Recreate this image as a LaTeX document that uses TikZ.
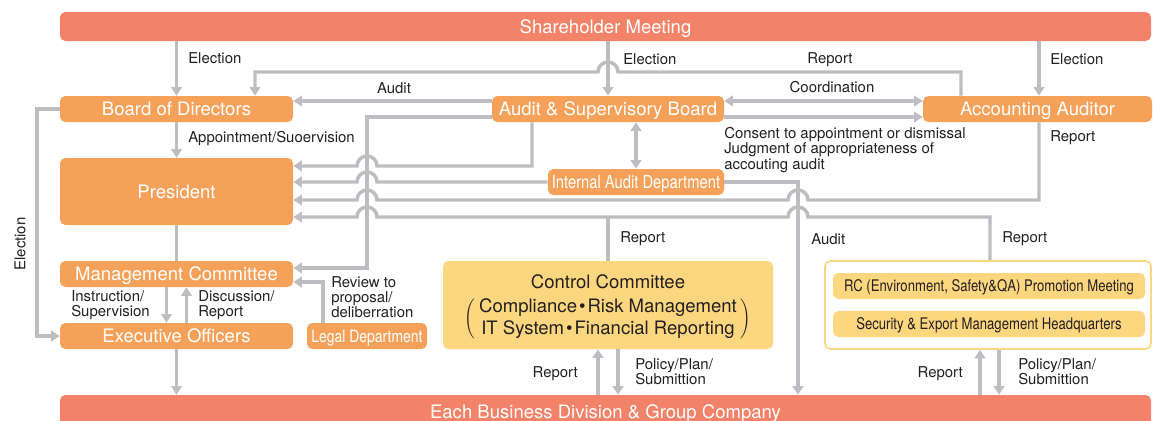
\documentclass[tikz,border=0pt]{standalone}
\usepackage{fontspec}
\setmainfont{TeX Gyre Heros}
\newfontfamily\condfont[FakeStretch=0.82]{TeX Gyre Heros}
\usetikzlibrary{arrows.meta}
\definecolor{barsalmon}{RGB}{243,131,104}
\definecolor{boxorange}{RGB}{246,161,90}
\definecolor{ctrlyellow}{RGB}{253,214,128}
\definecolor{linegray}{RGB}{189,190,193}
\definecolor{labelgray}{RGB}{35,31,32}
\newcommand\mdot{\kern1.5pt\textbullet\kern1.5pt}
\tikzset{
	basebox/.style = {rectangle, rounded corners=4pt, inner sep=0pt, align=center},
	onerow/.style = {text height=#1, text depth=0pt},% caps centred in the box
	onerow/.default = 10pt,
	barbox/.style = {basebox, onerow, fill=barsalmon, text=white, font=\fontsize{13.9}{16}\selectfont,
		minimum width=818.25pt, minimum height=21.75pt},% top and bottom bars
	obox/.style = {basebox, onerow, fill=boxorange, text=white, font=\fontsize{13.9}{16}\selectfont,
		minimum width=174.75pt, minimum height=19.5pt},% orange box
	cobox/.style = {obox, onerow=9.7pt, font=\condfont\fontsize{13.5}{16}\selectfont},% orange box, narrow text
	ctrlbox/.style = {basebox, fill=ctrlyellow, text=labelgray, font=\fontsize{13.9}{16.5}\selectfont,
		minimum width=247.5pt, minimum height=66pt},
	rcframe/.style = {basebox, draw=ctrlyellow, fill=white, line width=1.2pt,
		minimum width=244.5pt, minimum height=66pt},
	rcitem/.style = {basebox, onerow=8.6pt, fill=ctrlyellow, text=labelgray, font=\condfont\fontsize{12}{14}\selectfont,
		minimum width=234pt, minimum height=19.5pt},
	link/.style = {draw=linegray, line width=2.6pt},
	lbl/.style = {text=labelgray, font=\fontsize{11.2}{11.3}\selectfont, inner sep=0pt, align=left}
}

\begin{document}
\begin{tikzpicture}[x=0.75pt, y=-0.75pt, >={Triangle[width=8pt,length=6.5pt]}]
\useasboundingbox (0,0) rectangle (1153,421);
% boxes
\node[barbox] (share) at (605.5,26.5) {Shareholder Meeting};
\node[barbox, minimum height=24.75pt] (bottom) at (605.5,411.5) {Each Business Division \& Group Company};
\node[obox] (board) at (176.5,109) {Board of Directors};
\node[obox, minimum height=50.25pt] (pres) at (176.5,191.5) {President};
\node[obox] (mgmt) at (176.5,274) {Management Committee};
\node[obox] (exec) at (176.5,336) {Executive Officers};
\node[cobox, minimum width=90pt, onerow=9.2pt, font=\condfont\fontsize{12.75}{15}\selectfont] (legal) at (367,336) {Legal Department};
\node[obox, minimum width=174pt] (asb) at (608,109) {Audit \& Supervisory Board};
\node[cobox, minimum width=132pt] (iad) at (636,182) {Internal Audit Department};
\node[obox, minimum width=171.75pt] (aa) at (1037.5,109) {Accounting Auditor};
\node[ctrlbox] (ctrl) at (608,305) {\rule{0pt}{15pt}Control Committee\\[5.25pt]
	$\left(\kern3pt\begin{tabular}{@{}c@{}}Compliance\mdot Risk Management\\IT System\mdot Financial Reporting\end{tabular}\kern3pt\right)$};
\node[rcframe] (rcbox) at (988,305) {};
\node[rcitem] (rc) at (989,286) {RC (Environment, Safety\&QA) Promotion Meeting};
\node[rcitem] (sec) at (989,324) {Security \& Export Management Headquarters};

% election, appointment, line of command
\draw[link,->] (share.south -| board.north) -- (board.north);
\draw[link,->] (share.south -| asb.north) -- (asb.north);
\draw[link,->] (share.south -| 1039,0) -- (aa.north -| 1039,0);
\draw[link,->] (board.south) -- (pres.north);
\draw[link] (pres.south) -- (mgmt.north);
\draw[link,->] ([xshift=-7.5pt]mgmt.south) -- ([xshift=-7.5pt]exec.north);
\draw[link,->] ([xshift=7.5pt]exec.north) -- ([xshift=7.5pt]mgmt.south);
\draw[link,->] (exec.south) -- (bottom.north -| exec.south);
\draw[link,->] (board.west) -| (37,336) -- (exec.west);
\draw[link,->] (legal.north -| 323,0) |- ([yshift=-6pt]mgmt.east);

% audit & supervisory board
\draw[link,->] ([yshift=6pt]asb.west) -- ([yshift=6pt]board.east);
\draw[link,<->] ([yshift=6pt]asb.east) -- ([yshift=6pt]aa.west);
\draw[link,->] ([yshift=-6pt]asb.east) -- ([yshift=-6pt]aa.west);
\draw[link,<->] (asb.south -| iad.north) -- (iad.north);
\draw[link,->] ([yshift=-6pt]asb.west) -| (367,268) -- ([yshift=4.5pt]mgmt.east);
\draw[link,->] (aa.north -| 961,0) -- (961,72) -- (618,72) arc (0:180:7.5pt) -- (255,72) -- (board.north -| 255,0);

% reports to the president, hopping over the verticals
\draw[link,->] (asb.south -| 532,0) -- (532,166) -- (377,166) arc (0:180:7.5pt) -- (pres.east |- 0,166);
\draw[link,->] (iad.west) -- (377,182) arc (0:180:7.5pt) -- (pres.east |- iad.west);
\draw[link,->] (aa.south -| 1039,0) -- (1039,200) -- (808,200) arc (0:180:7.5pt)
	-- (377,200) arc (0:180:7.5pt) -- (pres.east |- 0,200);
\draw[link,->] (rcbox.north -| 990,0) -- (990,217) -- (808,217) arc (0:180:7.5pt)
	-- (377,217) arc (0:180:7.5pt) -- (pres.east |- 0,217);
\draw[link] (ctrl.north) -- (608,217);
\draw[link,->] (iad.east) -- (798,182) -- (bottom.north -| 798,0);

% committees and business divisions
\draw[link,->] (bottom.north -| 598,0) -- (ctrl.south -| 598,0);
\draw[link,->] (ctrl.south -| 618,0) -- (bottom.north -| 618,0);
\draw[link,->] (bottom.north -| 980,0) -- (rcbox.south -| 980,0);
\draw[link,->] (rcbox.south -| 999,0) -- (bottom.north -| 999,0);

% labels
\node[lbl, anchor=west] at (188,58) {Election};
\node[lbl, anchor=west] at (623,59) {Election};
\node[lbl, anchor=west] at (1050,59) {Election};
\node[lbl] at (830,60) {Report};
\node[lbl] at (394,88) {Audit};
\node[lbl] at (832,87) {Coordination};
\node[lbl, anchor=west] at (724,150) {Consent to appointment or dismissal\\Judgment of appropriateness of\\accouting audit};
\node[lbl, anchor=west] at (1050,138) {Report};
\node[lbl, anchor=west] at (188,139) {Appointment/Suoervision};
\node[lbl, anchor=west] at (620,239) {Report};
\node[lbl, anchor=west] at (811,239) {Audit};
\node[lbl, anchor=west] at (1002,239) {Report};
\node[lbl, rotate=90] at (20,244) {Election};
\node[lbl, anchor=west] at (71,305.5) {Instruction/\\Supervision};
\node[lbl, anchor=west] at (198,305.5) {Discussion/\\Report};
\node[lbl, anchor=west] at (331,297.5) {Review to\\proposal/\\deliberration};
\node[lbl, anchor=east] at (578,374) {Report};
\node[lbl, anchor=west] at (635,372) {Policy/Plan/\\Submittion};
\node[lbl, anchor=east] at (963,374) {Report};
\node[lbl, anchor=west] at (1018,372) {Policy/Plan/\\Submittion};
\end{tikzpicture}
\end{document}
